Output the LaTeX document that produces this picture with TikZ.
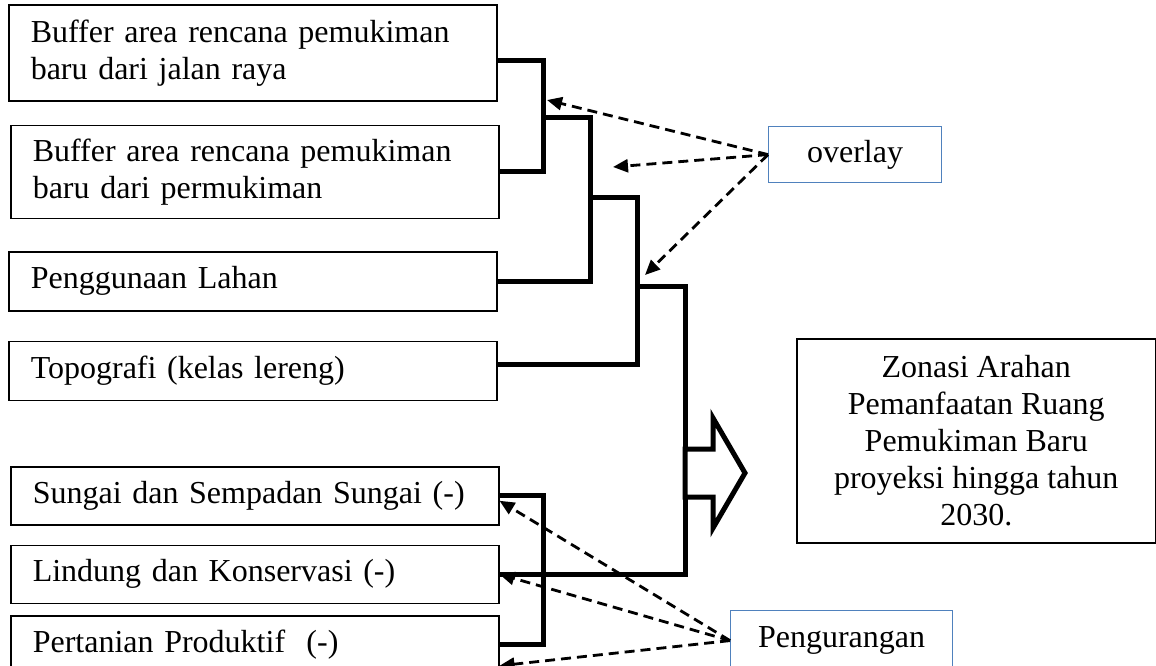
\documentclass[tikz,border=0pt]{standalone}
\usepackage{fontspec}
\setmainfont{Liberation Serif}
\usepackage{tikz}
\usetikzlibrary{arrows.meta, positioning, calc}
\definecolor{ink}{RGB}{0, 0, 0}
\definecolor{opborder}{RGB}{79, 129, 189}
\tikzset{
  font=\fontsize{32}{37}\selectfont,
  baseblock/.style={
    rectangle, draw=ink, line width=1.5pt, fill=white, inner sep=0pt
  },
  factorblock/.style={baseblock, text width=444pt, inner xsep=22pt, align=left},
  resultblock/.style={baseblock, minimum width=359pt, minimum height=204pt, align=center},
  opblock/.style={baseblock, draw=opborder, line width=1.2pt},
  bracketline/.style={draw=ink, line width=5pt},
  dashedflow/.style={
    draw=ink, line width=2.8pt, dash pattern=on 10pt off 6pt,
    -{Triangle[length=15pt, width=13pt]}
  },
  blockarrow/.style={draw=ink, fill=white, line width=5pt, line join=miter}
}

\begin{document}
\begin{tikzpicture}[x=1pt, y=-1pt]
  \useasboundingbox (0,0) rectangle (1156,665);

  % Layers to overlay
  \node[factorblock, minimum height=96pt, anchor=north west] (jalan) at (8,4) {
    Buffer area rencana pemukiman\\baru dari jalan raya
  };
  \node[factorblock, minimum height=93pt, below=23pt of jalan.south west, anchor=north west, xshift=2pt] (pemukim) {
    Buffer area rencana pemukiman\\baru dari permukiman
  };
  \node[factorblock, minimum height=59pt, below=32pt of pemukim.south west, anchor=north west, xshift=-2pt] (lahan) {Penggunaan Lahan};
  \node[factorblock, minimum height=59pt, below=29pt of lahan.south west, anchor=north west] (topo) {Topografi (kelas lereng)};

  % Layers to subtract
  \node[factorblock, minimum height=58pt, below=65pt of topo.south west, anchor=north west, xshift=2pt] (sungai) {Sungai dan Sempadan Sungai (-)};
  \node[factorblock, minimum height=58pt, below=19pt of sungai.south west, anchor=north west] (lindung) {Lindung dan Konservasi (-)};
  \node[factorblock, minimum height=58pt, below=11pt of lindung.south west, anchor=north west] (tani) {Pertanian Produktif~ (-)};

  % Result and operations
  \node[resultblock, anchor=north west] (zonasi) at (796,338) {
    Zonasi Arahan\\Pemanfaatan Ruang\\Pemukiman Baru\\proyeksi hingga tahun\\2030.
  };
  \node[opblock, minimum width=173pt, minimum height=56pt, anchor=north west] (overlay) at (768,126) {overlay};
  \node[opblock, minimum width=222pt, minimum height=60pt, anchor=north west] (kurang) at (730,610) {Pengurangan};

  % Junctions
  \coordinate (k1) at (543,117);
  \coordinate (k2) at (590,197);
  \coordinate (k3) at (637,286);
  \coordinate (k4) at (685,473);
  \coordinate (k5) at (543,565);
  \coordinate (t1) at (547,100);
  \coordinate (t2) at (613,167);
  \coordinate (t3) at (645,275);

  % Brackets
  \draw[bracketline] ([yshift=-8pt]jalan.east) -| (k1) |- (pemukim.east);
  \draw[bracketline] (k1) -| (k2) |- (lahan.east);
  \draw[bracketline] (k2) -| (k3) |- ([yshift=6pt]topo.east);
  \draw[bracketline] (k3) -| (k4) |- (lindung.east);
  \draw[bracketline] (sungai.east) -| (k5) |- (tani.east);
  \draw[blockarrow] ($(k4)+(0,-24)$) -- ++(28,0) -- ++(0,-31) -- ++(32,55) -- ++(-32,55) -- ++(0,-31) -- ++(-28,0) -- cycle;

  % Operation pointers
  \draw[dashedflow] (overlay.west) -- (t1);
  \draw[dashedflow] (overlay.west) -- (t2);
  \draw[dashedflow] (overlay.west) -- (t3);
  \draw[dashedflow] (kurang.west) -- ([yshift=-5pt]sungai.east);
  \draw[dashedflow] (kurang.west) -- (lindung.east);
  \draw[dashedflow] (kurang.west) -- ([yshift=-21pt]tani.east);

\end{tikzpicture}
\end{document}
